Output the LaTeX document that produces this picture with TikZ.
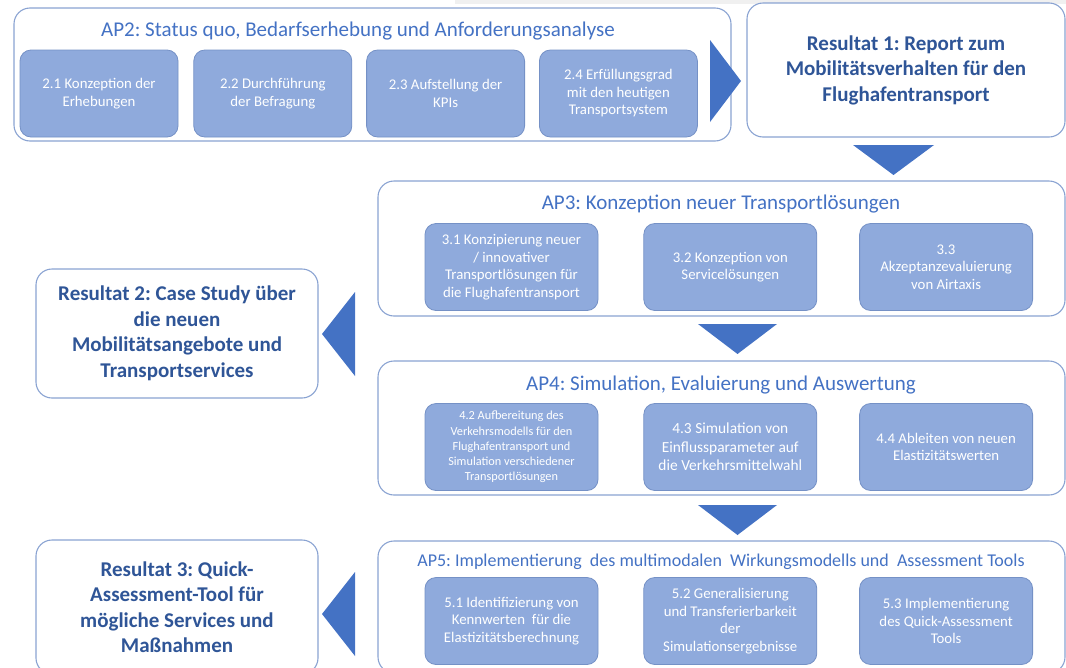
\documentclass[tikz,border=0pt]{standalone}
\usepackage{fontspec}
\setmainfont{Carlito}
\usepackage{tikz}
\usetikzlibrary{positioning}
\frenchspacing

\definecolor{apblue}{HTML}{4472C4}
\definecolor{resblue}{HTML}{2F5597}
\definecolor{taskfill}{HTML}{8FAADC}
\definecolor{taskline}{HTML}{7591C6}
\definecolor{frameline}{HTML}{8AA3D2}

\begin{document}
\begin{tikzpicture}[x=1pt,y=-1pt,
  frame/.style={draw=frameline,line width=1.1pt,rounded corners=16pt,fill=white,inner sep=0pt},
  aptitle/.style={text=apblue,font=\fontsize{21}{24}\selectfont,inner sep=0pt},
  task/.style={draw=taskline,fill=taskfill,line width=0.8pt,rounded corners=11pt,text=white,align=center,
               font=\fontsize{14.8}{17.5}\selectfont,minimum height=87pt,inner sep=1pt},
  result/.style={frame,text=resblue,align=center,font=\bfseries\fontsize{21}{25.5}\selectfont},
  blockarrow/.style={fill=apblue,draw=none}]

\useasboundingbox (0,0) rectangle (1066,667);
\fill[black!6] (455,0) rectangle (1066,3.5);

% AP2 with its tasks
\node [frame,minimum width=717pt,minimum height=133pt] (ap2) at (372.5,74.5) {};
\node [aptitle] (ap2t) at (358,31) {AP2: Status quo, Bedarfserhebung und Anforderungsanalyse};
\node [task,minimum width=158pt] (t21) at (99,93.5) {2.1 Konzeption der\\Erhebungen};
\node [task,minimum width=158pt,right=15pt of t21] (t22) {2.2 Durchführung\\der Befragung};
\node [task,minimum width=158pt,right=14pt of t22] (t23) {2.3 Aufstellung der\\KPIs};
\node [task,minimum width=158pt,right=14pt of t23] (t24) {2.4 Erfüllungsgrad\\mit den heutigen\\Transportsystem};

\node [result,minimum width=318pt,minimum height=134pt] (res1) at (906,70)
  {Resultat 1: Report zum\\Mobilitätsverhalten für den\\Flughafentransport};

% AP3
\node [frame,minimum width=687pt,minimum height=135pt] (ap3) at (721.5,248.5) {};
\node [aptitle] (ap3t) at (721,204) {AP3: Konzeption neuer Transportlösungen};
\node [task,minimum width=173pt] (t31) at (511.5,267) {3.1 Konzipierung neuer\\/ innovativer\\Transportlösungen für\\die Flughafentransport};
\node [task,minimum width=173pt,right=45pt of t31] (t32) {3.2 Konzeption von\\Servicelösungen};
\node [task,minimum width=173pt,right=42pt of t32] (t33) {3.3\\Akzeptanzevaluierung\\von Airtaxis};

\node [result,minimum width=282pt,minimum height=129pt] (res2) at (177,333.5)
  {Resultat 2: Case Study über\\die neuen\\Mobilitätsangebote und\\Transportservices};

% AP4
\node [frame,minimum width=687pt,minimum height=134pt] (ap4) at (721.5,428) {};
\node [aptitle] (ap4t) at (721,385) {AP4: Simulation, Evaluierung und Auswertung};
\node [task,minimum width=173pt,font=\fontsize{12.3}{15.2}\selectfont] (t42) at (511.5,447) {4.2 Aufbereitung des\\Verkehrsmodells für den\\Flughafentransport und\\Simulation verschiedener\\Transportlösungen};
\node [task,minimum width=173pt,right=45pt of t42,font=\fontsize{15.4}{18.5}\selectfont] (t43) {4.3 Simulation von\\Einflussparameter auf\\die Verkehrsmittelwahl};
\node [task,minimum width=173pt,right=42pt of t43] (t44) {4.4 Ableiten von neuen\\Elastizitätswerten};

% AP5
\node [frame,minimum width=687pt,minimum height=132pt] (ap5) at (721.5,607) {};
\node [aptitle,font=\fontsize{18}{21}\selectfont] (ap5t) at (721,562) {AP5: Implementierung\ \ des multimodalen\ \ Wirkungsmodells und\ \ Assessment Tools};
\node [task,minimum width=173pt] (t51) at (511.5,621) {5.1 Identifizierung von\\Kennwerten\ \ für die\\Elastizitätsberechnung};
\node [task,minimum width=173pt,right=45pt of t51] (t52) {5.2 Generalisierung\\und Transferierbarkeit\\der\\Simulationsergebnisse};
\node [task,minimum width=173pt,right=42pt of t52] (t53) {5.3 Implementierung\\des Quick-Assessment\\Tools};

\node [result,minimum width=282pt,minimum height=134pt] (res3) at (177,607)
  {Resultat 3: Quick-\\Assessment-Tool für\\mögliche Services und\\Maßnahmen};

% block arrows
\fill [blockarrow] (710,40) -- (741,81) -- (710,122) -- cycle;
\fill [blockarrow] (853,145) -- (934,145) -- (893.5,175) -- cycle;
\fill [blockarrow] (355,292) -- (322,334) -- (355,376) -- cycle;
\fill [blockarrow] (698,324) -- (777,324) -- (737.5,354) -- cycle;
\fill [blockarrow] (698,505) -- (777,505) -- (737.5,535) -- cycle;
\fill [blockarrow] (355,572) -- (322,614) -- (355,656) -- cycle;

\end{tikzpicture}
\end{document}
